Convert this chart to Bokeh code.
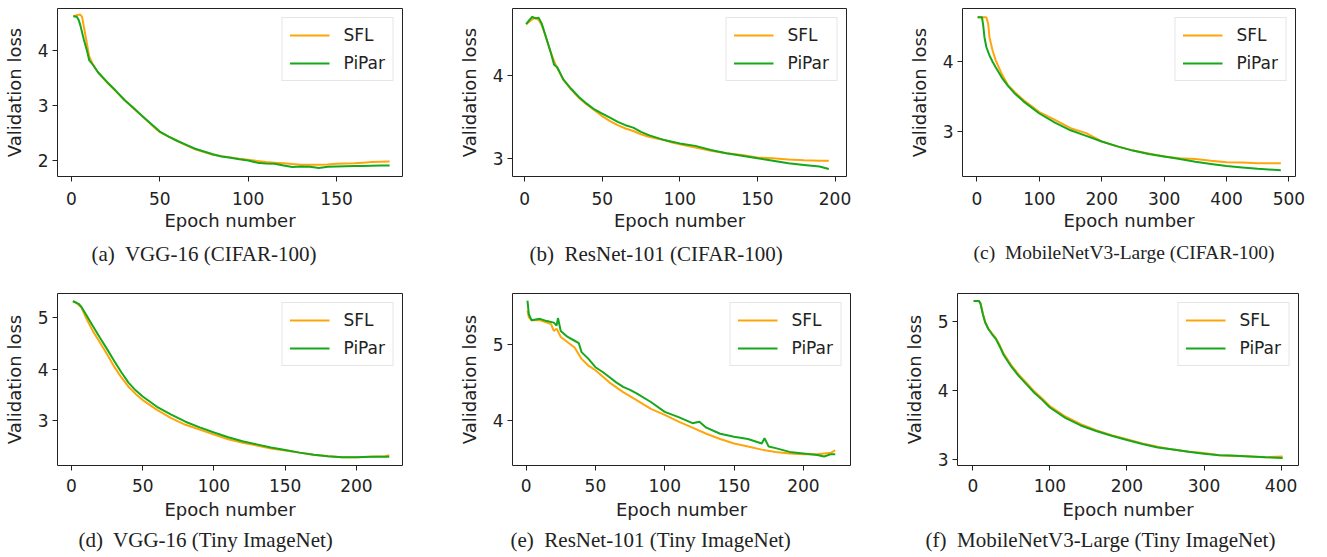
from bokeh.plotting import figure
from bokeh.layouts import column, row
from bokeh.models import Range1d, FixedTicker, Legend, LegendItem, Title
from bokeh.embed import file_html
from bokeh.resources import INLINE

# ---------------- data ----------------
# (a) VGG-16 (CIFAR-100)
a_sfl_x = [1, 3, 5, 6, 8, 10, 12, 15, 20, 25, 30, 35, 40, 45, 50, 55, 60, 65, 70, 75, 80, 85, 90, 95,
           100, 105, 110, 115, 120, 125, 130, 135, 140, 145, 150, 155, 160, 165, 170, 175, 180]
a_sfl_y = [4.61, 4.63, 4.64, 4.60, 4.25, 3.89, 3.75, 3.60, 3.42, 3.26, 3.10, 2.95, 2.81, 2.66, 2.52, 2.44,
           2.36, 2.28, 2.21, 2.16, 2.11, 2.085, 2.065, 2.04, 2.02, 2.00, 1.98, 1.97, 1.96, 1.945, 1.93,
           1.93, 1.93, 1.935, 1.95, 1.955, 1.96, 1.97, 1.98, 1.985, 1.99]
a_pp_x = [1, 3, 4, 5, 7, 9, 10, 12, 15, 20, 25, 30, 35, 40, 45, 50, 55, 60, 65, 70, 75, 80, 85, 90, 95,
          100, 105, 110, 115, 120, 125, 130, 135, 140, 145, 150, 155, 160, 165, 170, 175, 180]
a_pp_y = [4.61, 4.60, 4.55, 4.45, 4.19, 3.96, 3.82, 3.74, 3.60, 3.43, 3.27, 3.10, 2.96, 2.81, 2.67, 2.53,
          2.44, 2.36, 2.29, 2.22, 2.17, 2.12, 2.08, 2.06, 2.03, 2.01, 1.97, 1.955, 1.95, 1.92, 1.89, 1.90,
          1.895, 1.875, 1.895, 1.90, 1.905, 1.91, 1.91, 1.915, 1.92, 1.92]

# (b) ResNet-101 (CIFAR-100)
b_sfl_x = [1, 3, 5, 7, 9, 11, 13, 15, 17, 20, 25, 30, 35, 40, 45, 50, 55, 60, 65, 70, 75, 80, 85, 90, 95,
           100, 110, 120, 130, 140, 150, 160, 170, 180, 190, 196]
b_sfl_y = [4.62, 4.65, 4.68, 4.70, 4.67, 4.61, 4.51, 4.39, 4.27, 4.13, 3.95, 3.83, 3.73, 3.65, 3.58, 3.51,
           3.45, 3.40, 3.36, 3.33, 3.29, 3.26, 3.24, 3.22, 3.19, 3.17, 3.13, 3.09, 3.06, 3.04, 3.01, 3.00,
           2.985, 2.975, 2.97, 2.97]
b_pp_x = [1, 3, 5, 7, 9, 11, 13, 15, 17, 19, 21, 25, 30, 35, 40, 45, 50, 55, 60, 65, 70, 75, 80, 85, 90,
          95, 100, 110, 120, 130, 140, 150, 160, 170, 180, 190, 196]
b_pp_y = [4.62, 4.67, 4.71, 4.69, 4.70, 4.63, 4.51, 4.39, 4.27, 4.13, 4.10, 3.95, 3.84, 3.74, 3.66, 3.59,
          3.54, 3.49, 3.44, 3.40, 3.37, 3.32, 3.28, 3.25, 3.22, 3.20, 3.18, 3.15, 3.10, 3.06, 3.03, 3.00,
          2.97, 2.94, 2.92, 2.90, 2.87]

# (c) MobileNetV3-Large (CIFAR-100)
c_sfl_x = [1, 5, 10, 15, 18, 20, 25, 30, 40, 50, 60, 75, 100, 125, 150, 175, 200, 225, 250, 275, 300,
           325, 350, 375, 400, 425, 450, 487]
c_sfl_y = [4.625, 4.625, 4.625, 4.625, 4.53, 4.34, 4.15, 4.01, 3.81, 3.65, 3.56, 3.44, 3.27, 3.16, 3.04,
           2.97, 2.85, 2.78, 2.72, 2.68, 2.635, 2.61, 2.60, 2.575, 2.555, 2.55, 2.54, 2.54]
c_pp_x = [1, 5, 8, 10, 12, 15, 20, 25, 30, 40, 50, 60, 75, 100, 125, 150, 175, 200, 225, 250, 275, 300,
          325, 350, 375, 400, 425, 450, 487]
c_pp_y = [4.625, 4.625, 4.625, 4.51, 4.34, 4.20, 4.08, 3.99, 3.91, 3.76, 3.64, 3.54, 3.42, 3.25, 3.12,
          3.01, 2.93, 2.85, 2.78, 2.72, 2.67, 2.635, 2.60, 2.56, 2.53, 2.50, 2.48, 2.46, 2.44]

# (d) VGG-16 (Tiny ImageNet)
d_sfl_x = [1, 3, 7, 10, 15, 20, 25, 30, 35, 40, 45, 50, 60, 70, 80, 90, 100, 110, 120, 130, 140, 150,
           160, 170, 180, 190, 200, 210, 220, 223]
d_sfl_y = [5.32, 5.30, 5.20, 5.01, 4.74, 4.52, 4.29, 4.05, 3.84, 3.66, 3.52, 3.40, 3.21, 3.05, 2.92,
           2.83, 2.73, 2.64, 2.57, 2.52, 2.46, 2.42, 2.38, 2.34, 2.31, 2.29, 2.29, 2.30, 2.31, 2.33]
d_pp_x = [1, 5, 7, 10, 15, 20, 25, 30, 35, 40, 45, 50, 60, 70, 80, 90, 100, 110, 120, 130, 140, 150,
          160, 170, 180, 190, 200, 210, 220, 223]
d_pp_y = [5.32, 5.27, 5.21, 5.07, 4.84, 4.61, 4.39, 4.16, 3.94, 3.74, 3.59, 3.47, 3.27, 3.12, 2.98,
          2.87, 2.77, 2.68, 2.60, 2.54, 2.48, 2.43, 2.38, 2.34, 2.31, 2.29, 2.29, 2.30, 2.30, 2.30]

# (e) ResNet-101 (Tiny ImageNet)
e_sfl_x = [1, 2, 4, 10, 15, 18, 20, 22, 25, 30, 35, 40, 45, 50, 60, 70, 80, 90, 100, 110, 120, 130, 140,
           150, 160, 170, 180, 190, 200, 210, 220, 223]
e_sfl_y = [5.45, 5.36, 5.32, 5.32, 5.29, 5.27, 5.18, 5.21, 5.10, 5.03, 4.96, 4.81, 4.72, 4.66, 4.50,
           4.37, 4.26, 4.15, 4.07, 3.98, 3.90, 3.82, 3.75, 3.69, 3.65, 3.61, 3.58, 3.56, 3.55, 3.55, 3.57,
           3.60]
e_pp_x = [1, 2, 4, 10, 15, 20, 22, 23, 25, 30, 35, 38, 40, 45, 50, 55, 60, 65, 70, 75, 80, 90, 100, 110,
          120, 125, 130, 140, 150, 160, 170, 172, 175, 180, 190, 200, 210, 215, 220, 223]
e_pp_y = [5.58, 5.40, 5.32, 5.34, 5.31, 5.29, 5.25, 5.35, 5.18, 5.10, 5.05, 5.02, 4.90, 4.81, 4.70, 4.64,
          4.57, 4.50, 4.44, 4.40, 4.35, 4.24, 4.11, 4.04, 3.96, 3.98, 3.90, 3.82, 3.78, 3.75, 3.69, 3.76,
          3.65, 3.63, 3.58, 3.56, 3.54, 3.52, 3.55, 3.55]

# (f) MobileNetV3-Large (Tiny ImageNet)
f_x = [1, 8, 10, 13, 16, 20, 25, 30, 35, 40, 50, 60, 70, 80, 90, 100, 120, 140, 160, 180, 200, 220, 240,
       260, 280, 300, 320, 340, 360, 380, 402]
f_sfl_y = [5.30, 5.30, 5.27, 5.12, 5.00, 4.90, 4.83, 4.76, 4.66, 4.54, 4.37, 4.23, 4.11, 3.99, 3.89,
           3.78, 3.63, 3.52, 3.43, 3.36, 3.30, 3.24, 3.19, 3.15, 3.12, 3.10, 3.07, 3.06, 3.05, 3.04, 3.05]
f_pp_y = [5.30, 5.30, 5.26, 5.11, 4.99, 4.90, 4.82, 4.75, 4.64, 4.52, 4.35, 4.21, 4.09, 3.97, 3.87,
          3.76, 3.61, 3.50, 3.42, 3.35, 3.29, 3.23, 3.18, 3.15, 3.12, 3.09, 3.07, 3.06, 3.05, 3.04, 3.03]

series_names = ["SFL", "PiPar"]
captions = ["(a)\u00a0 VGG-16 (CIFAR-100)", "(b)\u00a0 ResNet-101 (CIFAR-100)",
            "(c)\u00a0 MobileNetV3-Large (CIFAR-100)", "(d)\u00a0 VGG-16 (Tiny ImageNet)",
            "(e)\u00a0 ResNet-101 (Tiny ImageNet)", "(f)\u00a0 MobileNetV3-Large (Tiny ImageNet)"]

SFL_COLOR = "#ffa50a"
PIPAR_COLOR = "#16a81c"
TXT = "#222222"


def panel(sx, sy, px, py, xr, yr, xticks, yticks, caption, cap_off,
          width, height, bl, bt, br, bb, tick_sd, lab_sd, cap_sd, cap_size="21px"):
    p = figure(width=width, height=height, x_range=Range1d(*xr), y_range=Range1d(*yr),
               output_backend="svg", toolbar_location=None, title=None,
               min_border_left=bl, min_border_top=bt, min_border_right=br, min_border_bottom=bb)
    p.background_fill_color = "white"
    p.border_fill_color = "white"
    p.outline_line_color = TXT
    p.outline_line_width = 1
    p.xgrid.visible = False
    p.ygrid.visible = False
    r1 = p.line(sx, sy, line_color=SFL_COLOR, line_width=2)
    r2 = p.line(px, py, line_color=PIPAR_COLOR, line_width=2)
    p.xaxis.ticker = FixedTicker(ticks=xticks)
    p.yaxis.ticker = FixedTicker(ticks=yticks)
    for ax in (p.xaxis[0], p.yaxis[0]):
        ax.axis_line_color = None
        ax.major_tick_out = 5
        ax.major_tick_in = 0
        ax.minor_tick_out = 0
        ax.minor_tick_in = 0
        ax.major_tick_line_color = TXT
        ax.major_label_text_font = "DejaVu Sans"
        ax.major_label_text_font_size = "17px"
        ax.major_label_text_color = TXT
        ax.axis_label_text_font = "DejaVu Sans"
        ax.axis_label_text_font_size = "18px"
        ax.axis_label_text_font_style = "normal"
        ax.axis_label_text_color = TXT
    p.xaxis.axis_label = "Epoch number"
    p.yaxis.axis_label = "Validation loss"
    p.xaxis.major_label_standoff = tick_sd
    p.yaxis.major_label_standoff = 4
    p.xaxis.axis_label_standoff = lab_sd
    p.yaxis.axis_label_standoff = 10
    leg = Legend(items=[LegendItem(label=series_names[0], renderers=[r1]),
                        LegendItem(label=series_names[1], renderers=[r2])],
                 location="top_right", margin=9, padding=7, spacing=8,
                 glyph_width=40, glyph_height=20, label_height=20, label_standoff=14,
                 label_text_font="DejaVu Sans", label_text_font_size="17px", label_text_color=TXT,
                 border_line_color="#cccccc", border_line_width=1, background_fill_alpha=0.9)
    p.add_layout(leg)
    cap = Title(text=caption, align="left", offset=cap_off, text_font="Liberation Serif",
                text_font_size=cap_size, text_font_style="normal", text_color=TXT, standoff=cap_sd)
    p.add_layout(cap, "below")
    return p


pa = panel(a_sfl_x, a_sfl_y, a_pp_x, a_pp_y, (-7.9, 187.3), (1.72, 4.75), [0, 50, 100, 150], [2, 3, 4],
           captions[0], 34, 455, 280, 55, 5, 53, 104, 10, 2, 13)
pb = panel(b_sfl_x, b_sfl_y, b_pp_x, b_pp_y, (-7.8, 207.4), (2.78, 4.81), [0, 50, 100, 150, 200], [3, 4],
           captions[1], 17, 450, 280, 52, 8, 59, 102, 10, 2, 13)
pc = panel(c_sfl_x, c_sfl_y, c_pp_x, c_pp_y, (-23.2, 510.5), (2.35, 4.75), [0, 100, 200, 300, 400, 500],
           [3, 4], captions[2], 11, 415, 280, 53, 8, 25, 103, 10, 2, 13, "19.5px")
pd = panel(d_sfl_x, d_sfl_y, d_pp_x, d_pp_y, (-9.8, 232.3), (2.13, 5.47), [0, 50, 100, 150, 200],
           [3, 4, 5], captions[3], 21, 455, 276, 55, 13, 53, 91, 8, 4, 7)
pe = panel(e_sfl_x, e_sfl_y, e_pp_x, e_pp_y, (-9.8, 234.0), (3.40, 5.675), [0, 50, 100, 150, 200],
           [4, 5], captions[4], -2, 445, 276, 48, 13, 50, 91, 8, 4, 7)
pf = panel(f_x, f_sfl_y, f_x, f_pp_y, (-19.9, 422.6), (2.92, 5.41), [0, 100, 200, 300, 400],
           [3, 4, 5], captions[5], -32, 420, 276, 50, 13, 22, 91, 8, 4, 7)

layout = column(row(pa, pb, pc), row(pd, pe, pf))
open("out.html", "w").write(file_html(layout, INLINE))
